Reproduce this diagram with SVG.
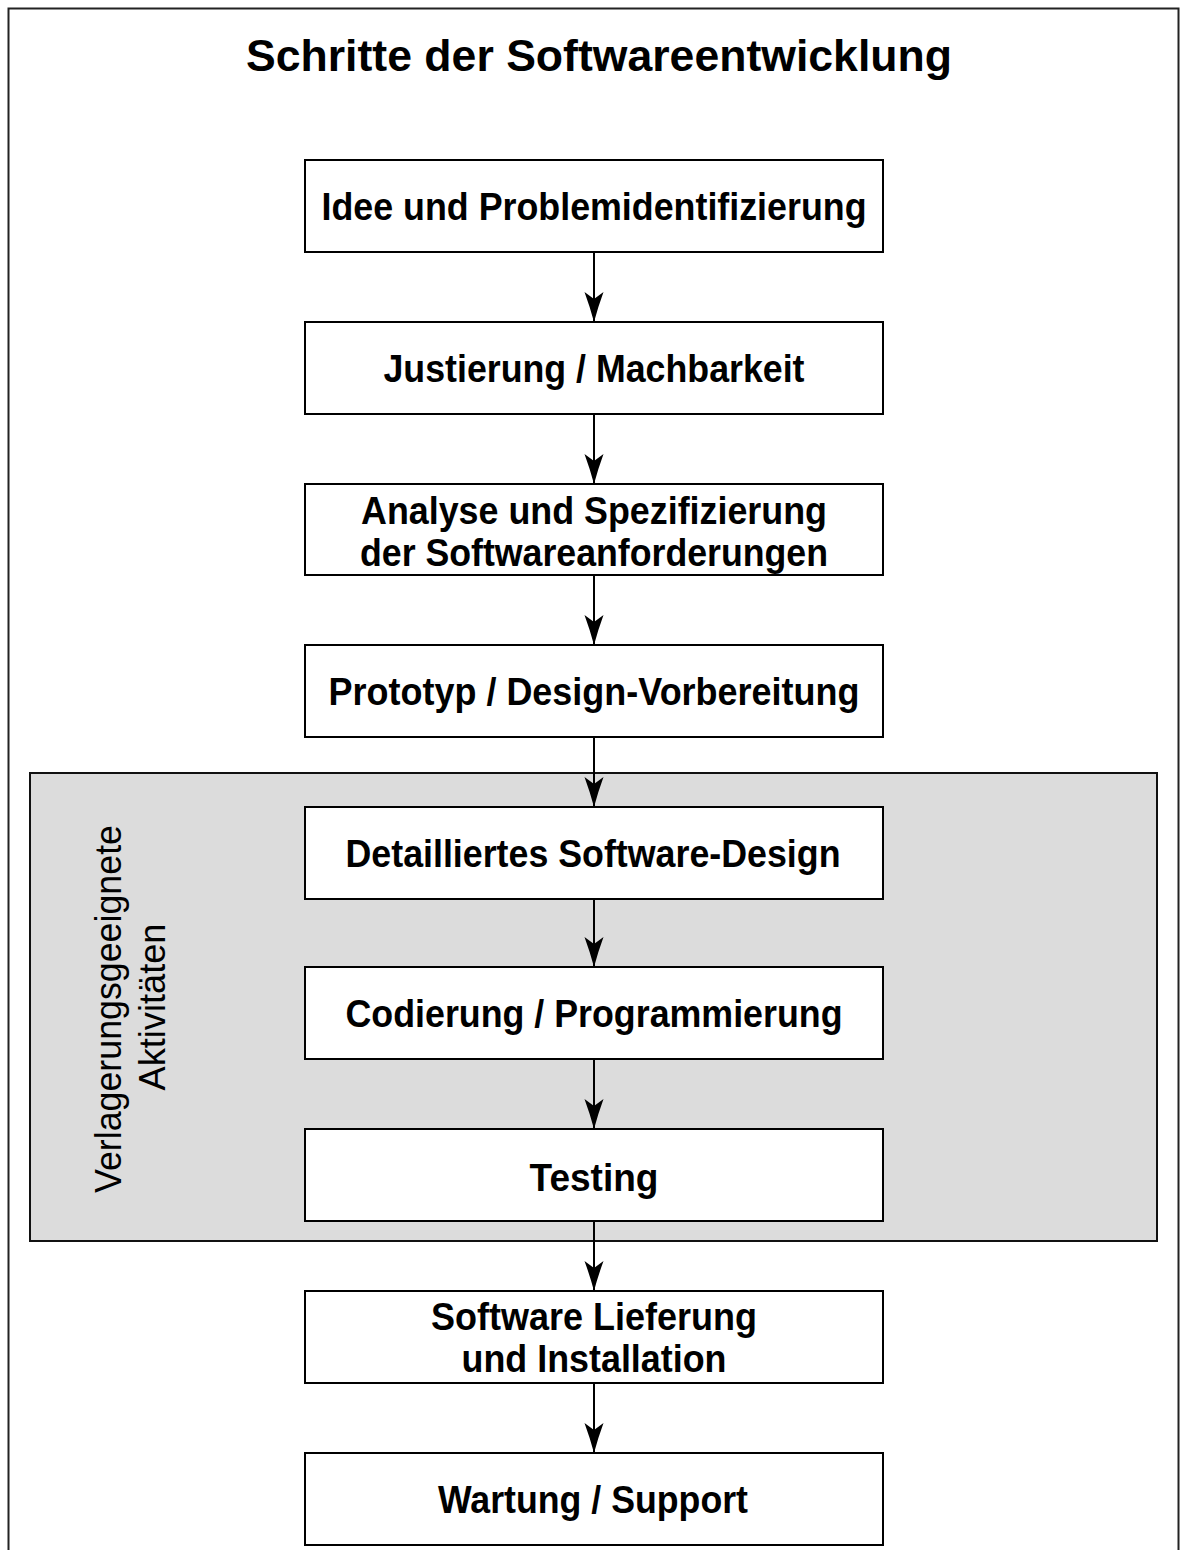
<svg xmlns="http://www.w3.org/2000/svg" width="1180" height="1550" viewBox="0 0 1180 1550">
<defs>
<style>
.frame{fill:#ffffff;stroke:#222;stroke-width:2}
.group{fill:#dcdcdc;stroke:#111;stroke-width:2}
.box{fill:#ffffff;stroke:#000;stroke-width:2}
.lbl{font-family:"Liberation Sans",Arial,sans-serif;font-weight:bold;font-size:38px;fill:#000;text-anchor:middle}
.title{font-family:"Liberation Sans",Arial,sans-serif;font-weight:bold;font-size:45px;fill:#000;text-anchor:middle}
.side{font-family:"Liberation Sans",Arial,sans-serif;font-size:36px;fill:#000;text-anchor:middle}
.conn{stroke:#000;stroke-width:2;fill:none;marker-end:url(#arr)}
</style>
<marker id="arr" markerUnits="userSpaceOnUse" viewBox="-31 -11 32 22" refX="0" refY="0" markerWidth="32" markerHeight="22" orient="auto">
<path d="M0,0 Q-15,-4 -30,-9.5 L-23,0 L-30,9.5 Q-15,4 0,0 Z" fill="#000"/>
</marker>
</defs>
<rect class="frame" x="8.5" y="8.5" width="1170" height="1560"/>
<text class="title" x="599" y="71" textLength="706" lengthAdjust="spacingAndGlyphs">Schritte der Softwareentwicklung</text>
<g id="group-verlagerung">
<rect class="group" x="30" y="773" width="1127" height="468"/>
<text class="side" transform="translate(121,1009) rotate(-90)" textLength="368" lengthAdjust="spacingAndGlyphs">Verlagerungsgeeignete</text>
<text class="side" transform="translate(165,1007) rotate(-90)" textLength="167" lengthAdjust="spacingAndGlyphs">Aktivitäten</text>
</g>
<g id="connectors">
<line class="conn" x1="594" y1="252" x2="594" y2="322"/>
<line class="conn" x1="594" y1="414" x2="594" y2="484"/>
<line class="conn" x1="594" y1="575" x2="594" y2="645"/>
<line class="conn" x1="594" y1="737" x2="594" y2="807"/>
<line class="conn" x1="594" y1="899" x2="594" y2="967"/>
<line class="conn" x1="594" y1="1059" x2="594" y2="1129"/>
<line class="conn" x1="594" y1="1221" x2="594" y2="1291"/>
<line class="conn" x1="594" y1="1383" x2="594" y2="1453"/>
</g>
<g id="n1"><rect class="box" x="305" y="160" width="578" height="92"/><text class="lbl" x="594" y="220" textLength="545" lengthAdjust="spacingAndGlyphs">Idee und Problemidentifizierung</text></g>
<g id="n2"><rect class="box" x="305" y="322" width="578" height="92"/><text class="lbl" x="594" y="382" textLength="421" lengthAdjust="spacingAndGlyphs">Justierung / Machbarkeit</text></g>
<g id="n3"><rect class="box" x="305" y="484" width="578" height="91"/><text class="lbl" x="594" y="524" textLength="466" lengthAdjust="spacingAndGlyphs">Analyse und Spezifizierung</text><text class="lbl" x="594" y="566" textLength="468" lengthAdjust="spacingAndGlyphs">der Softwareanforderungen</text></g>
<g id="n4"><rect class="box" x="305" y="645" width="578" height="92"/><text class="lbl" x="594" y="705" textLength="531" lengthAdjust="spacingAndGlyphs">Prototyp / Design-Vorbereitung</text></g>
<g id="n5"><rect class="box" x="305" y="807" width="578" height="92"/><text class="lbl" x="593" y="867" textLength="495" lengthAdjust="spacingAndGlyphs">Detailliertes Software-Design</text></g>
<g id="n6"><rect class="box" x="305" y="967" width="578" height="92"/><text class="lbl" x="594" y="1027" textLength="497" lengthAdjust="spacingAndGlyphs">Codierung / Programmierung</text></g>
<g id="n7"><rect class="box" x="305" y="1129" width="578" height="92"/><text class="lbl" x="594" y="1191" textLength="129" lengthAdjust="spacingAndGlyphs">Testing</text></g>
<g id="n8"><rect class="box" x="305" y="1291" width="578" height="92"/><text class="lbl" x="594" y="1330" textLength="326" lengthAdjust="spacingAndGlyphs">Software Lieferung</text><text class="lbl" x="594" y="1372" textLength="265" lengthAdjust="spacingAndGlyphs">und Installation</text></g>
<g id="n9"><rect class="box" x="305" y="1453" width="578" height="92"/><text class="lbl" x="593" y="1513" textLength="310" lengthAdjust="spacingAndGlyphs">Wartung / Support</text></g>
</svg>
